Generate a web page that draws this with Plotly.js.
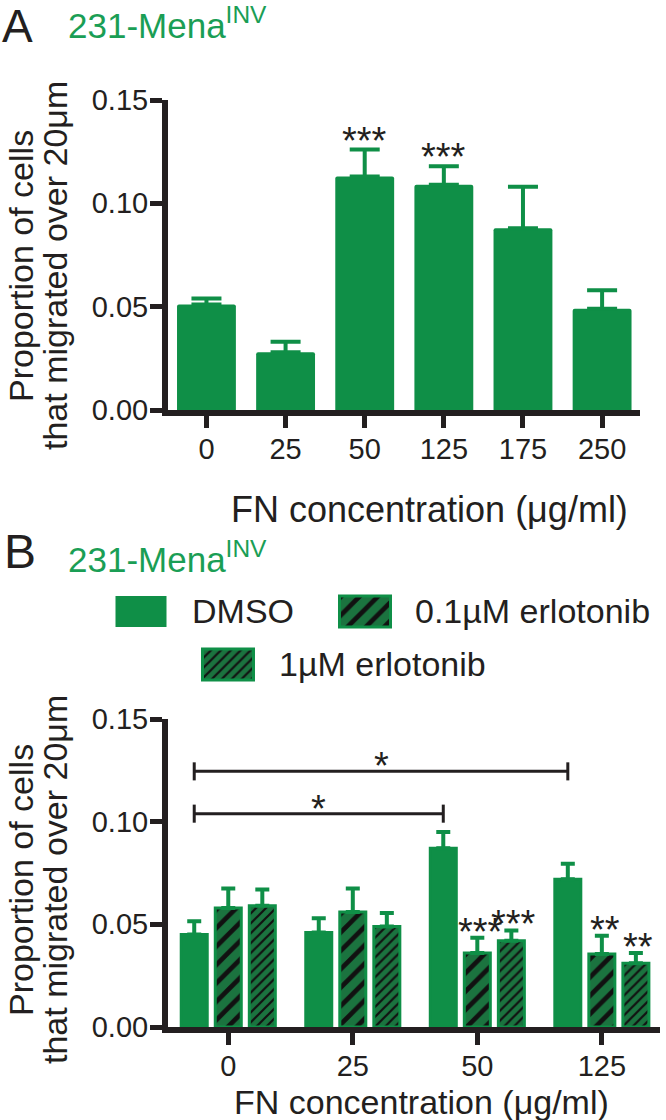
<!DOCTYPE html>
<html>
<head>
<meta charset="utf-8">
<script src="https://cdn.plot.ly/plotly-3.0.1.min.js"></script>
<style>html,body{margin:0;padding:0;background:#fff;}#chart{width:666px;height:1120px;}</style>
</head>
<body>
<div id="chart"></div>
<script>
// ---------- DATA ----------
// Panel A: 231-Mena INV, migration vs FN concentration
const concA = ['0', '25', '50', '125', '175', '250'];
const meanA = [0.051, 0.028, 0.113, 0.109, 0.088, 0.049];
const semA  = [0.003, 0.005, 0.013, 0.009, 0.020, 0.009];
const sigA  = ['', '', '***', '***', '', ''];

// Panel B: DMSO vs erlotonib
const concB = ['0', '25', '50', '125'];
const seriesNames = ['DMSO', '0.1µM erlotonib', '1µM erlotonib'];
const dmso     = [0.045, 0.046, 0.087, 0.072];
const dmsoErr  = [0.0065, 0.007, 0.008, 0.0075];
const erl01    = [0.058, 0.056, 0.036, 0.0355];
const erl01Err = [0.0095, 0.0115, 0.0075, 0.009];
const erl1     = [0.059, 0.049, 0.042, 0.031];
const erl1Err  = [0.008, 0.0065, 0.005, 0.005];
const sigErl01 = ['', '', '***', '**'];
const sigErl1  = ['', '', '***', '**'];

// Significance brackets between DMSO bars
const bracketFrom  = ['0', '0'];
const bracketTo    = ['125', '50'];
const bracketY     = [0.1245, 0.1039];
const bracketLabel = ['*', '*'];

const yTicks = [0, 0.05, 0.10, 0.15];

// ---------- STYLE ----------
const F = 'Liberation Sans, Arial, Helvetica, sans-serif';
const INK = '#231f20';
const GREEN = '#0f8f47';
const GREEN_DARK = '#1b733f';
const TITLE_GREEN = '#1a9e55';
const BARGAP = 0.18, BARGROUPGAP = 0.236;
const W = 666, H = 1120;

const zeros = a => a.map(() => 0);

function axisStyle(extra) {
  return Object.assign({
    showline: true, linewidth: 6, linecolor: INK,
    ticks: 'outside', ticklen: 12, tickwidth: 5, tickcolor: INK,
    tickfont: {size: 29, family: F, color: INK}, ticklabelstandoff: -4,
    showgrid: false, zeroline: false, fixedrange: true
  }, extra);
}

const patt01 = {shape: '/', size: 13, solidity: 0.36, bgcolor: GREEN_DARK, fgcolor: '#111'};
const patt1  = {shape: '/', size: 7,  solidity: 0.32, bgcolor: GREEN_DARK, fgcolor: '#111'};

function errY(arr, w) {
  return {type: 'data', symmetric: false, array: arr, arrayminus: zeros(arr),
          color: GREEN, thickness: 4, width: w};
}

const traces = [
  {type: 'bar', x: concA, y: meanA, xaxis: 'x', yaxis: 'y', width: 0.744,
   marker: {color: GREEN, cornerradius: 2}, error_y: errY(semA, 15), hoverinfo: 'none'},
  {type: 'bar', name: seriesNames[0], x: concB, y: dmso, xaxis: 'x2', yaxis: 'y2',
   marker: {color: GREEN, line: {color: GREEN, width: 3}}, error_y: errY(dmsoErr, 7), hoverinfo: 'none'},
  {type: 'bar', name: seriesNames[1], x: concB, y: erl01, xaxis: 'x2', yaxis: 'y2',
   marker: {color: GREEN, line: {color: GREEN, width: 3}, pattern: patt01}, error_y: errY(erl01Err, 7), hoverinfo: 'none'},
  {type: 'bar', name: seriesNames[2], x: concB, y: erl1, xaxis: 'x2', yaxis: 'y2',
   marker: {color: GREEN, line: {color: GREEN, width: 3}, pattern: patt1}, error_y: errY(erl1Err, 7), hoverinfo: 'none'}
];

// Custom legend swatches (layout positions in page pixels on a hidden overlay axis)
const swX = [141, 365, 228], swTop = [596, 596, 649], swW = 51, swH = 31;
traces.push({
  type: 'bar', x: swX, y: swX.map(() => swH), base: swTop, width: swW,
  xaxis: 'x3', yaxis: 'y3', hoverinfo: 'none',
  marker: {
    color: GREEN,
    line: {color: GREEN, width: [0, 3, 3]},
    pattern: {shape: ['', '/', '/'], size: [8, patt01.size, patt1.size],
              solidity: [0.3, patt01.solidity, patt1.solidity],
              bgcolor: [GREEN, GREEN_DARK, GREEN_DARK], fgcolor: '#111'}
  }
});

const ann = [];
function px(text, x, y, size, opts) {
  ann.push(Object.assign({text: text, x: x, y: y, xref: 'x3', yref: 'y3', showarrow: false,
    xanchor: 'left', yanchor: 'middle', font: {family: F, size: size, color: INK}}, opts || {}));
}

// Panel labels and titles
const cellLine = '231-Mena<sup>INV</sup>';
px('A', 0, 0, 46, {yanchor: 'top', yshift: 2});
px(cellLine, 66, 47, 35, {yanchor: 'bottom', font: {family: F, size: 35, color: TITLE_GREEN}});
px('B', 2, 551.5, 48);
px(cellLine, 66, 581, 35, {yanchor: 'bottom', font: {family: F, size: 35, color: TITLE_GREEN}});

// Axis titles
const yt1 = 'Proportion of cells', yt2 = 'that migrated over 20μm';
[266, 880].forEach(function (c) {
  px(yt1, 21, c, 34, {textangle: -90, xanchor: 'center'});
  px(yt2, 55, c, 34, {textangle: -90, xanchor: 'center'});
});
px('FN concentration (μg/ml)', 429, 509, 36, {xanchor: 'center'});
px('FN concentration (μg/ml)', 421, 1102, 34, {xanchor: 'center'});

// Legend labels
px(seriesNames[0], 190, 611, 34);
px(seriesNames[1], 413, 611, 34);
px(seriesNames[2], 277, 664, 34);

// Significance stars, panel A
const STAR = 38;
concA.forEach(function (c, i) {
  if (sigA[i]) ann.push({text: sigA[i], x: i, y: meanA[i] + semA[i], xref: 'x', yref: 'y',
    showarrow: false, yanchor: 'middle', yshift: 9, font: {family: F, size: STAR, color: INK}});
});
// Panel B stars
const slot = (1 - BARGAP) / 3;
concB.forEach(function (c, i) {
  if (sigErl01[i]) ann.push({text: sigErl01[i], x: i, y: erl01[i] + erl01Err[i], xref: 'x2', yref: 'y2',
    showarrow: false, yanchor: 'middle', yshift: 6, xshift: 3, font: {family: F, size: STAR, color: INK}});
  if (sigErl1[i]) ann.push({text: sigErl1[i], x: i + slot, y: erl1[i] + erl1Err[i], xref: 'x2', yref: 'y2',
    showarrow: false, yanchor: 'middle', yshift: 6, xshift: 2, font: {family: F, size: STAR, color: INK}});
});

// Brackets
const shapes = [];
const tickH = 0.0044;
bracketFrom.forEach(function (f, k) {
  const x0 = concB.indexOf(f) - slot, x1 = concB.indexOf(bracketTo[k]) - slot, y = bracketY[k];
  const ln = {color: INK, width: 3};
  shapes.push({type: 'line', xref: 'x2', yref: 'y2', x0: x0, x1: x1, y0: y, y1: y, line: ln});
  shapes.push({type: 'line', xref: 'x2', yref: 'y2', x0: x0, x1: x0, y0: y - tickH, y1: y + tickH, line: ln});
  shapes.push({type: 'line', xref: 'x2', yref: 'y2', x0: x1, x1: x1, y0: y - tickH, y1: y + tickH, line: ln});
  ann.push({text: bracketLabel[k], x: (x0 + x1) / 2, y: y, xref: 'x2', yref: 'y2', showarrow: false,
    yanchor: 'middle', yshift: 5, font: {family: F, size: STAR, color: INK}});
});

const layout = {
  width: W, height: H, margin: {l: 0, r: 0, t: 0, b: 0},
  paper_bgcolor: '#fff', plot_bgcolor: 'rgba(0,0,0,0)',
  showlegend: false, barmode: 'group', bargap: BARGAP, bargroupgap: BARGROUPGAP,
  font: {family: F, color: INK},
  xaxis: axisStyle({domain: [168 / W, 640 / W], anchor: 'y', type: 'category', range: [-0.486, 5.479]}),
  yaxis: axisStyle({domain: [1 - 410 / H, 1 - 100 / H], anchor: 'x', range: [0, 0.15],
    tickvals: yTicks, tickformat: '.2f'}),
  xaxis2: axisStyle({domain: [168 / W, 660 / W], anchor: 'y2', type: 'category', range: [-0.484, 3.467]}),
  yaxis2: axisStyle({domain: [1 - 1027 / H, 1 - 719 / H], anchor: 'x2', range: [0, 0.15],
    tickvals: yTicks, tickformat: '.2f'}),
  xaxis3: {domain: [0, 1], anchor: 'y3', range: [0, W], visible: false, fixedrange: true},
  yaxis3: {domain: [0, 1], anchor: 'x3', range: [H, 0], visible: false, fixedrange: true},
  annotations: ann, shapes: shapes
};

Plotly.newPlot('chart', traces, layout, {displayModeBar: false, staticPlot: true});
</script>
</body>
</html>
